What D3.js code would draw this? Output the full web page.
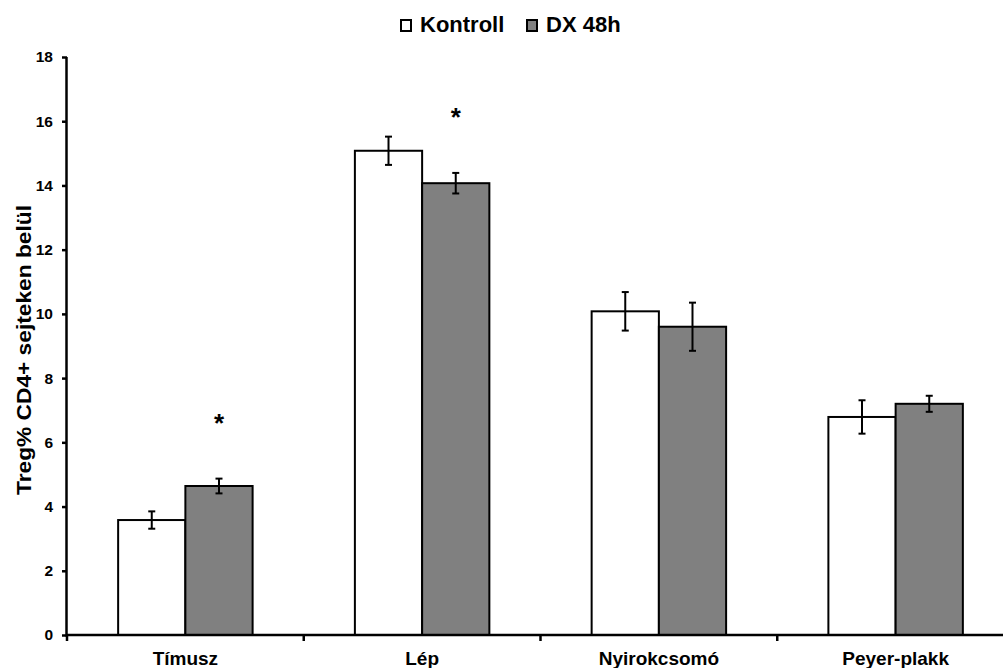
<!DOCTYPE html>
<html>
<head>
<meta charset="utf-8">
<script src="https://cdn.jsdelivr.net/npm/d3@7"></script>
<style>
  body { margin: 0; background: #fff; }
  svg { font-family: "Liberation Sans", Arial, sans-serif; font-weight: bold; }
</style>
</head>
<body>
<svg id="chart" width="1003" height="668"></svg>
<script>
// Treg% CD4+ sejteken belül - Kontroll vs DX 48h

const categories = ["Tímusz", "Lép", "Nyirokcsomó", "Peyer-plakk"];
const series = ["Kontroll", "DX 48h"];
const kontroll = [3.58, 15.08, 10.08, 6.79];
const kontrollErr = [0.27, 0.44, 0.6, 0.52];
const dx = [4.64, 14.07, 9.6, 7.2];
const dxErr = [0.23, 0.32, 0.75, 0.25];
const dxSignif = [true, true, false, false]; // csillag
const yTicks = [0, 2, 4, 6, 8, 10, 12, 14, 16, 18];

const colors = { "Kontroll": "#ffffff", "DX 48h": "#808080" };

const svg = d3.select("#chart");

const x = d3.scaleBand()
    .domain(categories)
    .range([67, 1014]);

const bw = x.bandwidth();
const xSub = d3.scaleBand()
    .domain(series)
    .range([bw * 0.216, bw * 0.784]);

const y = d3.scaleLinear()
    .domain([0, 18])
    .range([635, 57]);

// adatok összefűzése
const rows = [];
categories.forEach((c, i) => {
    rows.push({ cat: c, s: "Kontroll", v: kontroll[i], e: kontrollErr[i], star: false });
    rows.push({ cat: c, s: "DX 48h", v: dx[i], e: dxErr[i], star: dxSignif[i] });
});

// oszlopok
svg.append("g").selectAll("rect")
    .data(rows)
    .enter().append("rect")
    .attr("x", d => x(d.cat) + xSub(d.s))
    .attr("y", d => y(d.v))
    .attr("width", xSub.bandwidth())
    .attr("height", d => y(0) - y(d.v))
    .attr("fill", d => colors[d.s])
    .attr("stroke", "#000")
    .attr("stroke-width", 2);

// hibasávok
const eb = svg.append("g").attr("stroke", "#000").attr("stroke-width", 2);
rows.forEach(d => {
    const cx = x(d.cat) + xSub(d.s) + xSub.bandwidth() / 2;
    eb.append("line").attr("x1", cx).attr("x2", cx)
        .attr("y1", y(d.v + d.e)).attr("y2", y(d.v - d.e));
    eb.append("line").attr("x1", cx - 3.5).attr("x2", cx + 3.5)
        .attr("y1", y(d.v + d.e)).attr("y2", y(d.v + d.e));
    eb.append("line").attr("x1", cx - 3.5).attr("x2", cx + 3.5)
        .attr("y1", y(d.v - d.e)).attr("y2", y(d.v - d.e));
});

// szignifikancia
svg.append("g").selectAll("text")
    .data(rows.filter(d => d.star))
    .enter().append("text")
    .attr("x", d => x(d.cat) + xSub(d.s) + xSub.bandwidth() / 2)
    .attr("y", d => y(d.v + d.e) - 47)
    .attr("text-anchor", "middle")
    .style("font-size", "26px")
    .text("*");

// y tengely
const yAxis = svg.append("g")
    .attr("transform", "translate(67,0)")
    .call(d3.axisLeft(y).tickValues(yTicks).tickSize(5).tickPadding(9));
yAxis.select(".domain").attr("stroke-width", 2.5).attr("d", "M-0.5," + y(18) + "V" + (y(0) + 1.5));
yAxis.selectAll(".tick line").attr("stroke-width", 2.5);
yAxis.selectAll(".tick text").style("font-size", "15.5px").style("font-weight", "bold").attr("fill", "#000");

// x tengely
const xAxis = svg.append("g")
    .attr("transform", "translate(0," + y(0) + ")");
xAxis.append("line")
    .attr("x1", 66).attr("x2", 1014)
    .attr("stroke", "#000").attr("stroke-width", 2.5);
xAxis.selectAll(".xt")
    .data(categories.concat([null]))
    .enter().append("line")
    .attr("class", "xt")
    .attr("x1", (d, i) => i < categories.length ? x(d) : x(categories[i - 1]) + bw)
    .attr("x2", (d, i) => i < categories.length ? x(d) : x(categories[i - 1]) + bw)
    .attr("y1", 0).attr("y2", 6)
    .attr("stroke", "#000").attr("stroke-width", 2.5);
xAxis.selectAll(".xl")
    .data(categories)
    .enter().append("text")
    .attr("class", "xl")
    .attr("x", d => x(d) + bw / 2)
    .attr("y", 30)
    .attr("text-anchor", "middle")
    .style("font-size", "19px")
    .text(d => d);

// y felirat
svg.append("text")
    .attr("transform", "translate(31,350) rotate(-90)")
    .attr("text-anchor", "middle")
    .attr("textLength", 290)
    .attr("lengthAdjust", "spacingAndGlyphs")
    .style("font-size", "20px")
    .text("Treg% CD4+ sejteken belül");

// jelmagyarázat
const legendX = [401, 527];
const legend = svg.append("g");
series.forEach((s, i) => {
    legend.append("rect")
        .attr("x", legendX[i]).attr("y", 20)
        .attr("width", 10).attr("height", 11)
        .attr("fill", colors[s]).attr("stroke", "#000").attr("stroke-width", 2);
    legend.append("text")
        .attr("x", legendX[i] + 19).attr("y", 32)
        .style("font-size", "22px")
        .text(s);
});
</script>
</body>
</html>
